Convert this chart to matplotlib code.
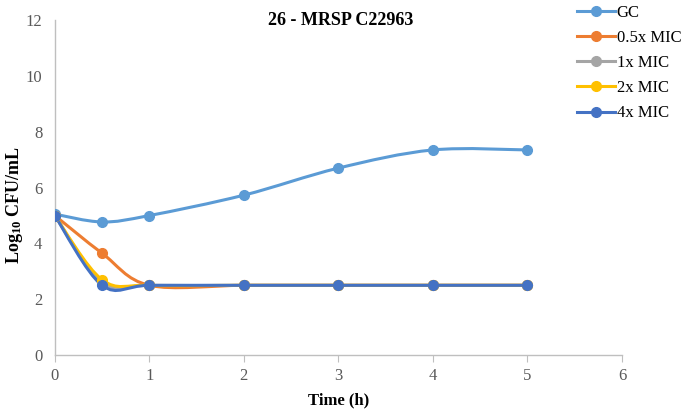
import numpy as np
import matplotlib.pyplot as plt
from matplotlib.path import Path
from matplotlib.patches import PathPatch
from matplotlib.lines import Line2D

plt.rcParams['font.family'] = ['Liberation Serif', 'DejaVu Serif']
plt.rcParams['mathtext.fontset'] = 'custom'
plt.rcParams['mathtext.rm'] = 'Liberation Serif'
plt.rcParams['mathtext.bf'] = 'Liberation Serif:bold'

# Time points (h) and log10 CFU/mL for each series
time = [0, 0.5, 1, 2, 3, 4, 5]
gc = [5.05, 4.77, 5.0, 5.73, 6.7, 7.35, 7.35]
mic_05 = [5.0, 3.65, 2.5, 2.5, 2.5, 2.5, 2.5]
mic_1 = [5.0, 2.6, 2.5, 2.5, 2.5, 2.5, 2.5]
mic_2 = [5.0, 2.7, 2.5, 2.5, 2.5, 2.5, 2.5]
mic_4 = [5.0, 2.5, 2.5, 2.5, 2.5, 2.5, 2.5]

labels = ['GC', '0.5x MIC', '1x MIC', '2x MIC', '4x MIC']
series = [gc, mic_05, mic_1, mic_2, mic_4]
colors = ['#5B9BD5', '#ED7D31', '#A5A5A5', '#FFC000', '#4472C4']


def smooth_path(x, y, t=1/6):
    # Excel-style smoothed line as cubic Bezier segments
    x = np.asarray(x, float)
    y = np.asarray(y, float)
    n = len(x)
    verts = [(x[0], y[0])]
    codes = [Path.MOVETO]
    for i in range(n - 1):
        p0 = np.array([x[max(i - 1, 0)], y[max(i - 1, 0)]])
        p1 = np.array([x[i], y[i]])
        p2 = np.array([x[i + 1], y[i + 1]])
        p3 = np.array([x[min(i + 2, n - 1)], y[min(i + 2, n - 1)]])
        c1 = p1 + (p2 - p0) * t
        c2 = p2 - (p3 - p1) * t
        verts += [tuple(c1), tuple(c2), tuple(p2)]
        codes += [Path.CURVE4] * 3
    return Path(verts, codes)


fig = plt.figure(figsize=(6.85, 4.11), dpi=100)
ax = fig.add_axes([0.080, 0.136, 0.828, 0.815])

handles = []
for vals, lab, col in zip(series, labels, colors):
    ax.add_patch(PathPatch(smooth_path(time, vals), facecolor='none',
                           edgecolor=col, lw=2.2, zorder=2))
    ax.plot(time, vals, 'o', color=col, ms=7, zorder=3)
    handles.append(Line2D([], [], color=col, lw=2.2, marker='o', ms=7))

ax.set_xlim(0, 6)
ax.set_ylim(0, 12)
ax.set_xticks(range(0, 7))
ax.set_yticks(range(0, 13, 2))
ax.tick_params(axis='both', labelsize=12, colors='#BFBFBF')
ax.tick_params(axis='y', length=0, pad=9)
ax.tick_params(axis='x', length=5, direction='out', pad=4)
for lbl in ax.get_xticklabels() + ax.get_yticklabels():
    lbl.set_color('#595959')
for s in ['top', 'right']:
    ax.spines[s].set_visible(False)
for s in ['left', 'bottom']:
    ax.spines[s].set_color('#BFBFBF')
    ax.spines[s].set_linewidth(1)

ax.set_xlabel('Time (h)', fontsize=12, fontweight='bold', labelpad=6)
fig.text(0.021, 0.5, r'$\mathbf{Log_{10}}$ CFU/mL', rotation=90,
         ha='center', va='center', fontsize=13, fontweight='bold')

fig.text(0.497, 0.95, '26 - MRSP C22963', ha='center', va='center',
         fontsize=13, fontweight='bold')

fig.legend(handles=handles, labels=labels, loc='upper left',
           bbox_to_anchor=(0.82, 1.025), frameon=False, fontsize=12,
           handlelength=2.3, labelspacing=0.55, handletextpad=0.1)

fig.savefig('out.png', dpi=100)
